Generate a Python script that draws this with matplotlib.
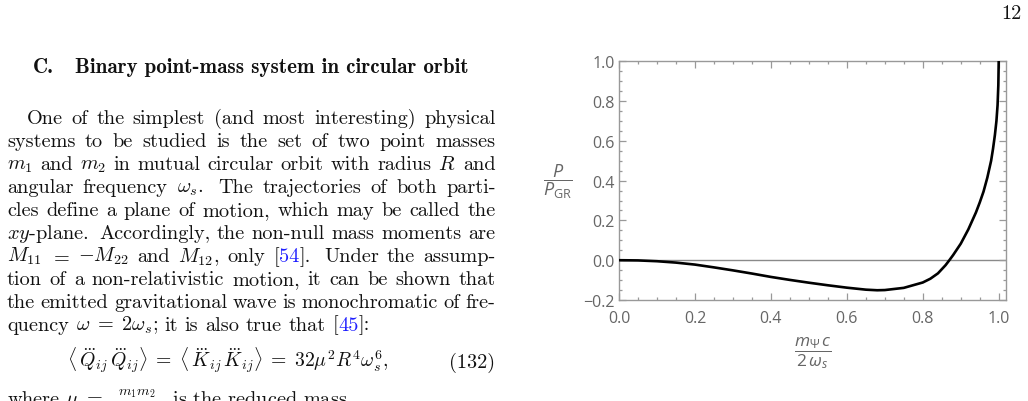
import numpy as np
import matplotlib
matplotlib.use('Agg')
import matplotlib.pyplot as plt
from matplotlib.ticker import MultipleLocator

# sans math for the plot labels, Computer Modern for the page text
plt.rcParams['mathtext.fontset'] = 'custom'
plt.rcParams['mathtext.rm'] = 'Open Sans'
plt.rcParams['mathtext.it'] = 'Open Sans:italic'
plt.rcParams['mathtext.bf'] = 'Open Sans:bold'

# curve: P/P_GR vs m_psi c / (2 omega_s)
ratio = [0.0, 0.05, 0.1, 0.15, 0.2, 0.25, 0.3, 0.35, 0.4, 0.45, 0.5, 0.55,
         0.6, 0.65, 0.68, 0.7, 0.75, 0.8, 0.82, 0.84, 0.86, 0.87, 0.88, 0.9,
         0.92, 0.94, 0.95, 0.96, 0.97, 0.98, 0.985, 0.99, 0.994, 0.997,
         0.999, 1.0]
power = [0.0, -0.001, -0.005, -0.012, -0.022, -0.036, -0.051, -0.067,
         -0.084, -0.099, -0.113, -0.126, -0.138, -0.148, -0.151, -0.150,
         -0.139, -0.112, -0.093, -0.066, -0.025, 0.0, 0.026, 0.083, 0.155,
         0.24, 0.29, 0.345, 0.415, 0.50, 0.56, 0.63, 0.70, 0.78, 0.88, 1.0]

xticks = [0.0, 0.2, 0.4, 0.6, 0.8, 1.0]
xtick_labels = ['0.0', '0.2', '0.4', '0.6', '0.8', '1.0']
yticks = [-0.2, 0.0, 0.2, 0.4, 0.6, 0.8, 1.0]
ytick_labels = ['\u22120.2', '0.0', '0.2', '0.4', '0.6', '0.8', '1.0']

heading_num = 'C.'
heading = 'Binary point-mass system in circular orbit'
blue = '#1f1fff'
ink = '#111111'
body = [
    'One of the simplest (and most interesting) physical',
    'systems to be studied is the set of two point masses',
    r'$m_1$ and $m_2$ in mutual circular orbit with radius $R$ and',
    r'angular frequency $\omega_s$.  The trajectories of both parti-',
    'cles define a plane of motion, which may be called the',
    r'$xy$-plane.  Accordingly, the non-null mass moments are',
    r'$M_{11}$ $=$ $-M_{22}$ and $M_{12}$, only [54].  Under the assump-',
    'tion of a non-relativistic motion, it can be shown that',
    'the emitted gravitational wave is monochromatic of fre-',
    r'quency $\omega\;=\;2\omega_s$; it is also true that [45]:',
]
equation = (r'$\langle\,\dddot{Q}_{ij}\,\dddot{Q}_{ij}\rangle\;=\;'
            r'\langle\,\dddot{K}_{ij}\,\dddot{K}_{ij}\rangle\;=\;32\mu^2 R^4\omega_s^6,$')
eq_number = '(132)'
last_line = r'where $\mu\;=\;\frac{m_1 m_2}{m_1+m_2}$ is the reduced mass.'

W, H = 1028, 402
FS = 14.6
FS_HEAD = 15.1
FS_EQ = 14.2
fig = plt.figure(figsize=(W / 100, H / 100), dpi=100)
rend = fig.canvas.get_renderer()


def fx(x):
    return x / W


def fy(y):
    return 1 - y / H


def split_words(text):
    # words (math kept whole) and a weight for the space after each
    words, weights, cur = [], [], ''
    for part in text.split(' '):
        if part == '':
            if weights:
                weights[-1] = 1.6
            continue
        cur = part if cur == '' else cur + ' ' + part
        if cur.count('$') % 2 == 0:
            words.append(cur)
            weights.append(1.0)
            cur = ''
    return words, weights


def split_colour(w):
    # pull out citation numbers so they can be blue
    for ref in ('54', '45'):
        key = '[' + ref + ']'
        if key in w:
            a, b = w.split(key)
            return [(a + '[', ink), (ref, blue), (']' + b, ink)]
    return [(w, ink)]


def put_line(text, y, x0, x1, justify=True):
    words, weights = split_words(text)
    groups = []
    total = 0
    for w in words:
        ts = []
        for s, c in split_colour(w):
            if s == '':
                continue
            t = fig.text(0, fy(y), s, fontsize=FS, family='cmr10', color=c,
                         va='baseline', math_fontfamily='cm')
            ts.append((t, t.get_window_extent(rend).width))
        groups.append(ts)
        total += sum(wd for _, wd in ts)
    weights = weights[:-1]
    if justify and len(groups) > 1:
        unit = (x1 - x0 - total) / sum(weights)
    else:
        unit = 0.333 * FS * 100 / 72
    x = x0
    for i, ts in enumerate(groups):
        for t, wd in ts:
            t.set_x(fx(x))
            x += wd
        if i < len(weights):
            x += unit * weights[i]


fig.text(fx(1021.7), fy(19), '12', fontsize=FS, family='cmr10', color=ink,
         ha='right', va='baseline')
fig.text(fx(33), fy(72.7), heading_num, fontsize=FS_HEAD, family='cmb10',
         color=ink, va='baseline')
fig.text(fx(75), fy(72.7), heading, fontsize=FS_HEAD, family='cmb10',
         color=ink, va='baseline')

base = 124.0
step = 22.95
for i, line in enumerate(body):
    x0 = 26.7 if i == 0 else 7
    put_line(line, base + i * step, x0, 495.5, justify=(i < len(body) - 1))

fig.text(fx(67), fy(368), equation, fontsize=FS_EQ, family='cmr10', color=ink,
         va='baseline', math_fontfamily='cm')
fig.text(fx(495.5), fy(368), eq_number, fontsize=FS, family='cmr10', color=ink,
         ha='right', va='baseline')
# last line is cut by the page edge, as in the original
fig.text(fx(7), fy(406), last_line, fontsize=FS, family='cmr10', color=ink,
         va='baseline', math_fontfamily='cm')

# the plot
gray = '#666666'
frame = '#999999'
ax = fig.add_axes([fx(619), fy(301), 387 / W, (301 - 62.3) / H])
ax.axhline(0, color='#8a8a8a', lw=1.0, zorder=1)
ax.plot(ratio, power, color='black', lw=1.9, zorder=3)
ax.set_xlim(0, 1.0192)
ax.set_ylim(-0.2, 1.0)
ax.set_xticks(xticks)
ax.set_xticklabels(xtick_labels)
ax.set_yticks(yticks)
ax.set_yticklabels(ytick_labels)
ax.xaxis.set_minor_locator(MultipleLocator(0.05))
ax.yaxis.set_minor_locator(MultipleLocator(0.05))
ax.tick_params(which='both', direction='in', top=True, right=True,
               color=frame, width=0.9, labelcolor=gray, labelsize=11.5)
ax.tick_params(which='major', length=5)
ax.tick_params(which='minor', length=2.5)
ax.tick_params(axis='x', pad=7)
ax.tick_params(axis='y', pad=3)
for lab in ax.get_xticklabels() + ax.get_yticklabels():
    lab.set_family(['Open Sans', 'DejaVu Sans'])
for sp in ax.spines.values():
    sp.set_color(frame)
    sp.set_linewidth(1.0)

fig.text(fx(558), fy(182), r'$\dfrac{P}{P_{\mathrm{GR}}}$', fontsize=13,
         color=gray, ha='center', va='center')
fig.text(fx(813), fy(353), r'$\dfrac{m_{\Psi}\,c}{2\,\omega_s}$', fontsize=12.5,
         color=gray, ha='center', va='center')

fig.savefig('out.png', dpi=100)
